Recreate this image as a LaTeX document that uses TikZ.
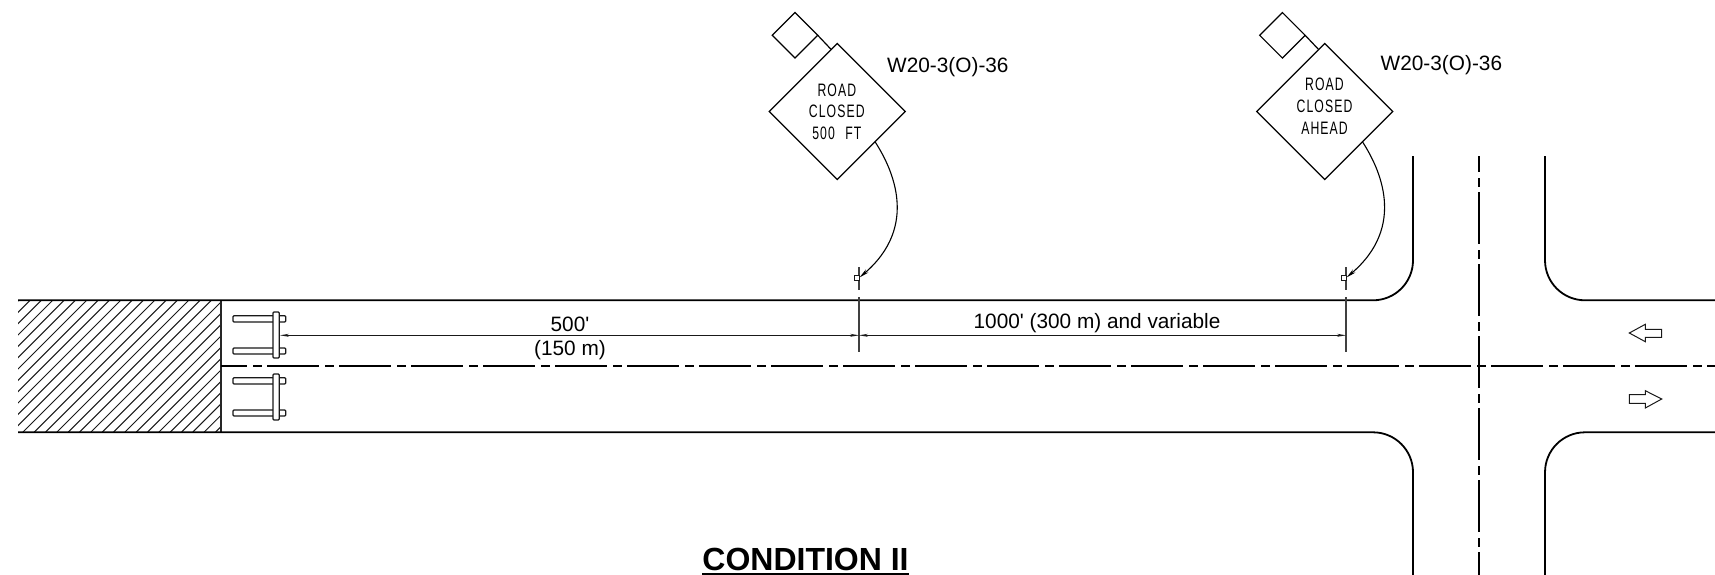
\documentclass[tikz,border=0pt]{standalone}
\usepackage{fontspec}
\usetikzlibrary{shapes.geometric,arrows.meta}
\setmainfont{Liberation Sans}
\newfontfamily\signfont[FakeStretch=0.68,LetterSpace=6]{Liberation Sans}
\tikzset{
  road/.style={line width=1.8pt,black},
  centre/.style={line width=1.8pt,black,dash pattern=on 52pt off 6pt on 9pt off 5pt},
  hatchline/.style={line width=1pt,black!90},
  signshape/.style={diamond,draw=black,line width=1.2pt,aspect=1,inner sep=0pt,outer sep=0pt,minimum width=136pt,minimum height=136pt},
  plaque/.style={diamond,draw=black,line width=1.2pt,aspect=1,inner sep=0pt,outer sep=0pt,minimum width=45.5pt,minimum height=45.5pt},
  signtext/.style={font=\signfont\fontsize{18}{21.8}\selectfont,align=center,inner sep=0pt,black},
  lab/.style={font=\fontsize{20.8}{24}\selectfont,inner sep=0pt,black},
  leader/.style={line width=1.1pt,black,-{Stealth[length=10pt,width=4pt]}},
  dim/.style={line width=1.1pt,black!90,{Stealth[length=9pt,width=3pt]}-{Stealth[length=9pt,width=3pt]}},
  bar/.style={draw=black!90,fill=white,line width=1.2pt,rounded corners=1pt},
  dirarrow/.style={draw=black!90,line width=1pt,fill=white,line join=miter},
  postline/.style={line width=1.3pt,black!75}
}
\begin{document}
\begin{tikzpicture}[x=1pt,y=-1pt]
\useasboundingbox (0,0) rectangle (1715,575);
\fill[white] (0,0) rectangle (1715,575);
% hatching
\begin{scope}
\clip (18,300) rectangle (221,432);
\foreach \k in {-2,...,27}{
  \pgfmathsetmacro{\cc}{341.7+11.33*\k}
  \draw[hatchline] ({\cc-300},300) -- ({\cc-432},432);
}
\end{scope}
\draw[line width=1.2pt,black!85] (221,300) -- (221,432);
% road edges
\draw[road,rounded corners=40pt] (1413,156) -- (1413,300.3) -- (18,300.3);
\draw[road,rounded corners=40pt] (18,432.3) -- (1413,432.3) -- (1413,575);
\draw[road,rounded corners=40pt] (1545,156) -- (1545,300.3) -- (1715,300.3);
\draw[road,rounded corners=40pt] (1715,432.3) -- (1545,432.3) -- (1545,575);
% centre lines
\draw[centre,dash phase=26pt] (221,366.3) -- (1715,366.3);
\draw[centre,dash phase=36pt] (1479,156) -- (1479,575);
% barricades
\foreach \y in {0,62}{
  \draw[bar] (233,315.7+\y) rectangle (285.7,322+\y);
  \draw[bar] (233,348+\y) rectangle (285.7,354+\y);
  \draw[bar] (273,312+\y) rectangle (279.3,358+\y);
}
% signs
\node[signshape] (s1) at (837.3,111.5) {};
\node[plaque] (q1) at (795,35.3) {};
\node[signtext] (t1) at (836.8,111.7) {ROAD\\CLOSED\\500\, \,FT};
\coordinate (q1a) at (831,49.3);
\draw[line width=1.2pt] (q1.east) -- (q1a);
\node[signshape] (s2) at (1324.7,111.5) {};
\node[plaque] (q2) at (1282.4,35.3) {};
\node[signtext] (t2) at (1324.5,106.3) {ROAD\\CLOSED\\AHEAD};
\coordinate (q2a) at (1318.4,49.3);
\draw[line width=1.2pt] (q2.east) -- (q2a);
% sign posts
\coordinate (p1t) at (859,267); \coordinate (p1b) at (859,290);
\coordinate (p2t) at (1346,267); \coordinate (p2b) at (1346,290);
\draw[postline] (p1t) -- (p1b);
\draw[postline] (p2t) -- (p2b);
\draw[line width=1pt,black!90,fill=white] (854,275) rectangle (859,280);
\draw[line width=1pt,black!90,fill=white] (1341,275) rectangle (1346,280);
% leaders
\coordinate (l1a) at (875,141.7); \coordinate (l1b) at (859.5,277.5);
\coordinate (l2a) at (1362.4,141.7); \coordinate (l2b) at (1346.5,277.5);
\draw[leader] (l1a) .. controls (892,168) and (920,226) .. (l1b);
\draw[leader] (l2a) .. controls (1379.4,168) and (1407.4,226) .. (l2b);
% dimension
\coordinate (d0) at (280,335.3); \coordinate (d1) at (859,335.3); \coordinate (d2) at (1346,335.3);
\coordinate (e1t) at (859,297); \coordinate (e1b) at (859,352);
\coordinate (e2t) at (1346,297); \coordinate (e2b) at (1346,352);
\draw[postline] (e1t) -- (e1b);
\draw[postline] (e2t) -- (e2b);
\draw[dim] (d0) -- (d1);
\draw[dim] (d1) -- (d2);
% labels
\node[lab,anchor=west] (w1) at (887,67.5) {W20-3(O)-36};
\node[lab,anchor=west] (w2) at (1380.5,65) {W20-3(O)-36};
\node[lab] (a1) at (570,324) {500\textquotesingle};
\node[lab] (a2) at (570,350) {(150 m)};
\node[lab] (a3) at (1097,323) {1000\textquotesingle{} (300 m) and variable};
\node[font=\bfseries\fontsize{32}{36}\selectfont,inner sep=0pt,anchor=base] (cond) at (805.5,570) {CONDITION II};
\draw[line width=2pt] ([yshift=-4pt]cond.base west) -- ([yshift=-4pt]cond.base east);
% direction arrows
\draw[dirarrow] (1629.3,333) -- (1645.3,324.3) -- (1645.3,329.3) -- (1661.7,329.3) -- (1661.7,337.3) -- (1645.3,337.3) -- (1645.3,341.7) -- cycle;
\draw[dirarrow] (1661.7,399) -- (1645.3,390.7) -- (1645.3,394.7) -- (1629.3,394.7) -- (1629.3,403.3) -- (1645.3,403.3) -- (1645.3,408) -- cycle;
\end{tikzpicture}
\end{document}
